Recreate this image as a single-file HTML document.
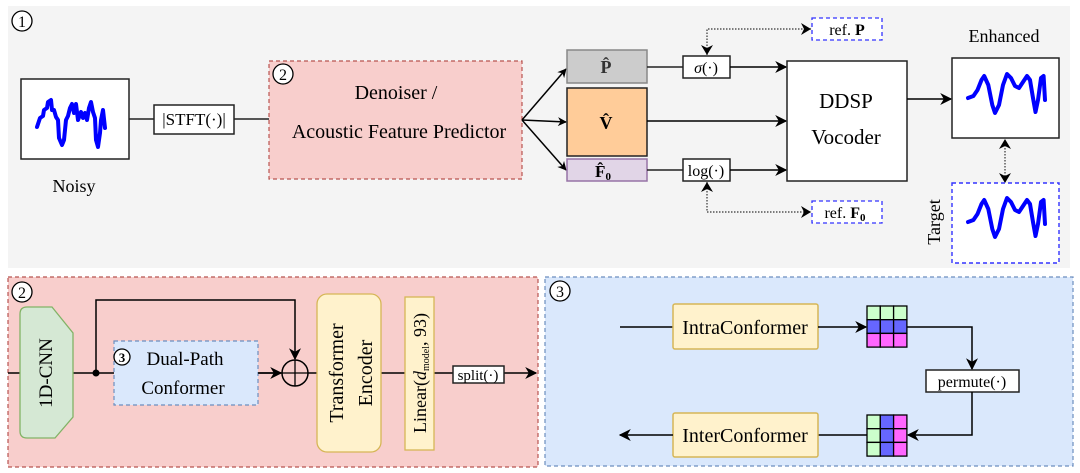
<!DOCTYPE html>
<html><head><meta charset="utf-8"><style>
html,body{margin:0;padding:0;background:#fff;}
svg{display:block;font-family:"Liberation Serif",serif;}
</style></head><body>
<svg width="1080" height="473" viewBox="0 0 1080 473" xmlns="http://www.w3.org/2000/svg">
<defs>
<marker id="ar" viewBox="0 0 10 10" refX="9" refY="5" markerWidth="9" markerHeight="9" markerUnits="userSpaceOnUse" orient="auto">
<path d="M0,0 L10,5 L0,10 L3,5 z" fill="#000"/></marker>
<marker id="arl" viewBox="0 0 10 10" refX="9" refY="5" markerWidth="12" markerHeight="12" markerUnits="userSpaceOnUse" orient="auto">
<path d="M0,0 L10,5 L0,10 L3,5 z" fill="#000"/></marker>
</defs>
<!-- top panel -->
<rect x="8" y="6" width="1062" height="262" fill="#f4f4f4"/>
<circle cx="22" cy="21" r="10" fill="#fff" stroke="#000" stroke-width="1.3"/>
<text x="22" y="27" font-size="16" text-anchor="middle">1</text>

<!-- Noisy -->
<rect x="21" y="79" width="108" height="80" fill="#fff" stroke="#222" stroke-width="1.5"/>
<polyline points="37,127 40,118 43,116 44,110 47,108 48,102 51,100 52,110 54,110 56,117 58,120 59,138 62,145 64,140 66,120 68,116 70,108 72,104 74,113 76,104 78,120 81,112 83,118 85,113 87,120 89,108 91,102 93,112 95,118 96,140 98,147 100,133 101,120 103,110 105,128" fill="none" stroke="#0000ff" stroke-width="4" stroke-linejoin="round" stroke-linecap="round"/>
<text x="74" y="192" font-size="18" text-anchor="middle">Noisy</text>

<line x1="129" y1="119" x2="154" y2="119" stroke="#222" stroke-width="1.5"/>
<rect x="154" y="105" width="80" height="29" fill="#fff" stroke="#222" stroke-width="1.5"/>
<text x="194" y="125" font-size="17" text-anchor="middle">|STFT(·)|</text>
<line x1="234" y1="119" x2="269" y2="119" stroke="#222" stroke-width="1.5"/>

<!-- Denoiser -->
<rect x="269" y="61" width="253" height="118" fill="#f8cecc" stroke="#b85450" stroke-width="1.2" stroke-dasharray="4,3"/>
<circle cx="283" cy="74" r="10" fill="#fff" stroke="#000" stroke-width="1.3"/>
<text x="283" y="80" font-size="16" text-anchor="middle">2</text>
<text x="396" y="99" font-size="20" text-anchor="middle">Denoiser /</text>
<text x="399" y="138" font-size="20" text-anchor="middle">Acoustic Feature Predictor</text>

<!-- fan -->
<line x1="522" y1="120" x2="566" y2="69" stroke="#000" stroke-width="1.5" marker-end="url(#ar)"/>
<line x1="522" y1="120" x2="566" y2="122" stroke="#000" stroke-width="1.5" marker-end="url(#ar)"/>
<line x1="522" y1="120" x2="566" y2="170" stroke="#000" stroke-width="1.5" marker-end="url(#ar)"/>

<rect x="567" y="50" width="80" height="33" fill="#cccccc" stroke="#888" stroke-width="1.5"/>
<text x="606" y="73" font-size="18" font-weight="bold" text-anchor="middle" fill="#333">P̂</text>
<rect x="567" y="88" width="80" height="68" fill="#ffcc99" stroke="#222" stroke-width="1.5"/>
<text x="606" y="129" font-size="18" font-weight="bold" text-anchor="middle">V̂</text>
<rect x="567" y="159" width="80" height="22" fill="#e1d5e7" stroke="#9673a6" stroke-width="1.5"/>
<text x="603" y="177" font-size="17" font-weight="bold" text-anchor="middle">F̂<tspan font-size="11" dy="3">0</tspan></text>

<line x1="647" y1="67" x2="683" y2="67" stroke="#222" stroke-width="1.5"/>
<rect x="683" y="56" width="47" height="22" fill="#fff" stroke="#222" stroke-width="1.5"/>
<text x="706" y="73" font-size="16" text-anchor="middle"><tspan font-style="italic">σ</tspan>(·)</text>
<line x1="730" y1="67" x2="786" y2="67" stroke="#000" stroke-width="1.5" marker-end="url(#arl)"/>
<line x1="647" y1="121" x2="786" y2="121" stroke="#000" stroke-width="1.5" marker-end="url(#arl)"/>
<line x1="647" y1="170" x2="683" y2="170" stroke="#222" stroke-width="1.5"/>
<rect x="683" y="159" width="47" height="22" fill="#fff" stroke="#222" stroke-width="1.5"/>
<text x="706" y="176" font-size="16" text-anchor="middle">log(·)</text>
<line x1="730" y1="170" x2="786" y2="170" stroke="#000" stroke-width="1.5" marker-end="url(#arl)"/>

<!-- refs -->
<polyline points="707,55 707,29 811,29" fill="none" stroke="#333" stroke-width="1.2" stroke-dasharray="1.5,1.5"/>
<path d="M701,45 L707,55 L713,45 L707,48 z" fill="#000"/>
<path d="M801,23 L811,29 L801,35 L804,29 z" fill="#000"/>
<rect x="812" y="18" width="70" height="22" fill="#fff" stroke="#3333ff" stroke-width="1.3" stroke-dasharray="4,3"/>
<text x="847" y="35" font-size="16" text-anchor="middle">ref. <tspan font-weight="bold">P</tspan></text>
<polyline points="707,182 707,212 811,212" fill="none" stroke="#333" stroke-width="1.2" stroke-dasharray="1.5,1.5"/>
<path d="M701,192 L707,182 L713,192 L707,189 z" fill="#000"/>
<path d="M801,206 L811,212 L801,218 L804,212 z" fill="#000"/>
<rect x="812" y="201" width="70" height="22" fill="#fff" stroke="#3333ff" stroke-width="1.3" stroke-dasharray="4,3"/>
<text x="845" y="218" font-size="16" text-anchor="middle">ref. <tspan font-weight="bold">F<tspan font-size="11" dy="3">0</tspan></tspan></text>

<!-- DDSP -->
<rect x="787" y="61" width="120" height="120" fill="#fff" stroke="#222" stroke-width="1.5"/>
<text x="846" y="108" font-size="21" text-anchor="middle">DDSP</text>
<text x="846" y="144" font-size="21" text-anchor="middle">Vocoder</text>
<line x1="907" y1="99" x2="951" y2="99" stroke="#000" stroke-width="1.5" marker-end="url(#arl)"/>

<text x="1004" y="42" font-size="18" text-anchor="middle">Enhanced</text>
<rect x="952" y="58" width="107" height="80" fill="#fff" stroke="#222" stroke-width="1.5"/>
<polyline points="968,98 973.4,96 977.5,90 981.5,80 984.2,76 988.3,85 992.3,105 995,113 999,105 1003,85 1007,74 1011,78 1015,86 1019,88 1023,82 1027,76 1030,80 1033,98 1035.5,112 1038,100 1041,78 1043.6,76 1045,100" fill="none" stroke="#0000ff" stroke-width="4" stroke-linejoin="round" stroke-linecap="round"/>
<line x1="1005" y1="142" x2="1005" y2="180" stroke="#333" stroke-width="1.2" stroke-dasharray="1.5,1.5"/>
<path d="M999,149 L1005,139 L1011,149 L1005,146 z" fill="#000"/>
<path d="M999,173 L1005,183 L1011,173 L1005,176 z" fill="#000"/>
<rect x="952" y="183" width="107" height="80" fill="#fff" stroke="#3333ff" stroke-width="1.4" stroke-dasharray="4,3"/>
<polyline points="968,222 973.4,220 977.5,214 981.5,204 984.2,200 988.3,209 992.3,229 995,237 999,229 1003,209 1007,198 1011,202 1015,210 1019,212 1023,206 1027,200 1030,204 1033,222 1035.5,236 1038,224 1041,202 1043.6,200 1045,224" fill="none" stroke="#0000ff" stroke-width="4" stroke-linejoin="round" stroke-linecap="round"/>
<text transform="translate(940,222) rotate(-90)" font-size="18" text-anchor="middle">Target</text>

<!-- bottom left -->
<rect x="8" y="277" width="530" height="190" fill="#f8cecc" stroke="#b85450" stroke-width="1.2" stroke-dasharray="4,3"/>
<circle cx="22" cy="292" r="10" fill="#fff" stroke="#000" stroke-width="1.3"/>
<text x="22" y="298" font-size="16" text-anchor="middle">2</text>
<line x1="8" y1="373" x2="536" y2="373" stroke="#000" stroke-width="1.5" marker-end="url(#arl)"/>
<path d="M27,307 L52,307 L73,333 L73,417 L55,438 L27,438 Q20,438 20,431 L20,314 Q20,307 27,307 z" fill="#d5e8d4" stroke="#82b366" stroke-width="1.3"/>
<text transform="translate(52,373) rotate(-90)" font-size="19" text-anchor="middle">1D-CNN</text>
<circle cx="96" cy="373" r="3.5" fill="#000"/>
<polyline points="96,373 96,300 295,300 295,359" fill="none" stroke="#000" stroke-width="1.5" marker-end="url(#arl)"/>
<rect x="114" y="341" width="144" height="64" fill="#dae8fc" stroke="#6c8ebf" stroke-width="1.2" stroke-dasharray="4,3"/>
<circle cx="122" cy="357" r="8" fill="#fff" stroke="#000" stroke-width="1.3"/>
<text x="122" y="362" font-size="13" text-anchor="middle" font-weight="bold">3</text>
<text x="185" y="365" font-size="19" text-anchor="middle">Dual-Path</text>
<text x="183" y="394" font-size="19" text-anchor="middle">Conformer</text>
<line x1="258" y1="373" x2="281" y2="373" stroke="#000" stroke-width="1.5" marker-end="url(#arl)"/>
<circle cx="295" cy="373" r="13" fill="#f8cecc" stroke="#000" stroke-width="1.5"/>
<line x1="282" y1="373" x2="308" y2="373" stroke="#000" stroke-width="1.3"/>
<line x1="295" y1="360" x2="295" y2="386" stroke="#000" stroke-width="1.3"/>
<rect x="317" y="294" width="64" height="158" rx="10" fill="#fff2cc" stroke="#d6b656" stroke-width="1.3"/>
<text transform="translate(349,373) rotate(-90)" font-size="20" text-anchor="middle"><tspan x="0" dy="-6">Transformer</tspan><tspan x="0" dy="29">Encoder</tspan></text>
<rect x="405" y="297" width="29" height="153" fill="#fff2cc" stroke="#d6b656" stroke-width="1.3"/>
<text transform="translate(426,373) rotate(-90)" font-size="18" text-anchor="middle">Linear(<tspan font-style="italic">d</tspan><tspan font-size="10" dy="3">model</tspan><tspan dy="-3">, 93)</tspan></text>
<rect x="453" y="366" width="51" height="17" fill="#fff" stroke="#222" stroke-width="1.5"/>
<text x="478" y="380" font-size="15" text-anchor="middle">split(·)</text>

<!-- bottom right -->
<rect x="545" y="277" width="528" height="189" fill="#dae8fc" stroke="#6c8ebf" stroke-width="1.2" stroke-dasharray="4,3"/>
<circle cx="560" cy="291" r="10" fill="#fff" stroke="#000" stroke-width="1.3"/>
<text x="560" y="297" font-size="16" text-anchor="middle">3</text>
<line x1="620" y1="327" x2="673" y2="327" stroke="#000" stroke-width="1.5"/>
<rect x="673" y="304" width="145" height="45" rx="2" fill="#fff2cc" stroke="#d6b656" stroke-width="1.5"/>
<text x="745" y="334" font-size="20" text-anchor="middle">IntraConformer</text>
<line x1="818" y1="327" x2="866" y2="327" stroke="#000" stroke-width="1.5" marker-end="url(#arl)"/>
<g stroke="#000" stroke-width="1.3">
<rect x="867" y="306" width="13.3" height="13.7" fill="#ccffcc"/><rect x="880.3" y="306" width="13.3" height="13.7" fill="#ccffcc"/><rect x="893.6" y="306" width="13.3" height="13.7" fill="#ccffcc"/>
<rect x="867" y="319.7" width="13.3" height="13.7" fill="#6666ff"/><rect x="880.3" y="319.7" width="13.3" height="13.7" fill="#6666ff"/><rect x="893.6" y="319.7" width="13.3" height="13.7" fill="#6666ff"/>
<rect x="867" y="333.4" width="13.3" height="13.7" fill="#ff66ff"/><rect x="880.3" y="333.4" width="13.3" height="13.7" fill="#ff66ff"/><rect x="893.6" y="333.4" width="13.3" height="13.7" fill="#ff66ff"/>
<rect x="867" y="415" width="13.3" height="13.7" fill="#ccffcc"/><rect x="880.3" y="415" width="13.3" height="13.7" fill="#6666ff"/><rect x="893.6" y="415" width="13.3" height="13.7" fill="#ff66ff"/>
<rect x="867" y="428.7" width="13.3" height="13.7" fill="#ccffcc"/><rect x="880.3" y="428.7" width="13.3" height="13.7" fill="#6666ff"/><rect x="893.6" y="428.7" width="13.3" height="13.7" fill="#ff66ff"/>
<rect x="867" y="442.4" width="13.3" height="13.7" fill="#ccffcc"/><rect x="880.3" y="442.4" width="13.3" height="13.7" fill="#6666ff"/><rect x="893.6" y="442.4" width="13.3" height="13.7" fill="#ff66ff"/>
</g>
<polyline points="907,327 972,327 972,369" fill="none" stroke="#000" stroke-width="1.5" marker-end="url(#arl)"/>
<rect x="926" y="370" width="93" height="22" fill="#fff" stroke="#222" stroke-width="1.5"/>
<text x="972" y="387" font-size="16" text-anchor="middle">permute(·)</text>
<polyline points="972,392 972,435 908,435" fill="none" stroke="#000" stroke-width="1.5" marker-end="url(#arl)"/>
<line x1="867" y1="435" x2="818" y2="435" stroke="#000" stroke-width="1.5"/>
<rect x="673" y="413" width="145" height="44" rx="2" fill="#fff2cc" stroke="#d6b656" stroke-width="1.5"/>
<text x="745" y="442" font-size="20" text-anchor="middle">InterConformer</text>
<line x1="673" y1="435" x2="620" y2="435" stroke="#000" stroke-width="1.5" marker-end="url(#arl)"/>
</svg>
</body></html>
